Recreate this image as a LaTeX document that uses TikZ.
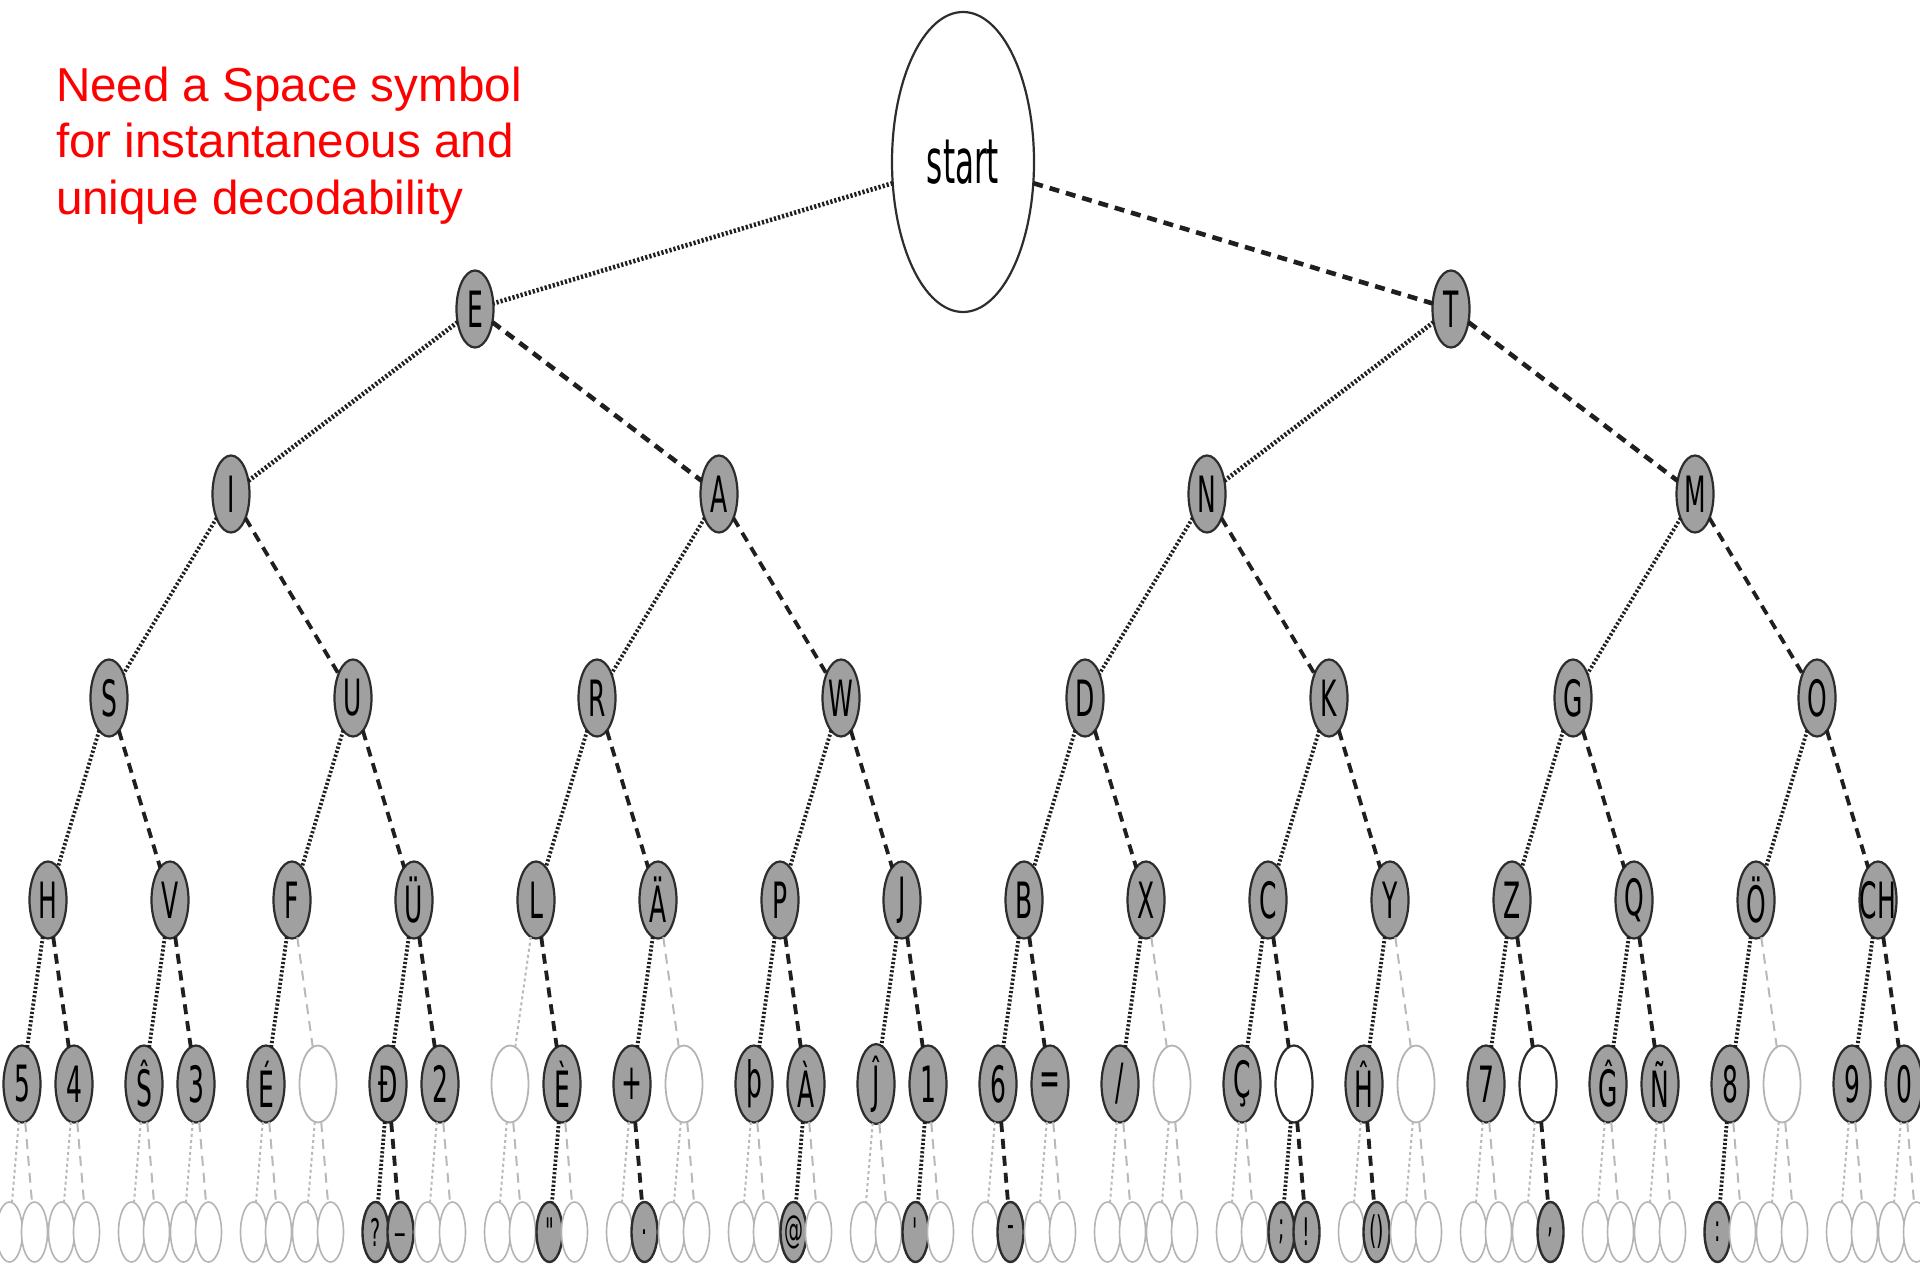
\documentclass[tikz,border=0pt]{standalone}
\usepackage{fontspec}
\setmainfont{Liberation Sans}
\newfontfamily\nfont[FakeStretch=0.5]{DejaVu Sans}
\usetikzlibrary{shapes.geometric}
\definecolor{nfill}{RGB}{160,160,160}
\definecolor{ndraw}{RGB}{45,45,45}
\definecolor{lgray}{RGB}{185,185,185}
\definecolor{egray}{RGB}{180,180,180}
\definecolor{titlered}{RGB}{255,0,0}
\newcommand\setlab[2]{\expandafter\def\csname mylab#1\endcsname{#2}}
\setlab{12}{?}\setlab{13}{\_}\setlab{18}{"}\setlab{21}{.}\setlab{26}{@}
\setlab{30}{'}\setlab{33}{-}\setlab{42}{;}\setlab{43}{!}\setlab{45}{()}
\setlab{51}{,}\setlab{56}{:}
\newcommand\nil{}
\newcommand\slashch{/}
\begin{document}
\begin{tikzpicture}[x=0.5pt,y=-0.5pt,
  every node/.style={inner sep=0pt,outer sep=0pt},
  title/.style={text=titlered,font=\fontsize{23.8pt}{28pt}\selectfont,anchor=base west},
  startnode/.style={ellipse,draw=ndraw,line width=1.1pt,fill=white,minimum width=71pt,minimum height=150pt,font=\nfont\fontsize{31pt}{31pt}\selectfont},
  lvf/.style={ellipse,draw=ndraw,line width=1.1pt,fill=nfill,minimum width=18.5pt,minimum height=38.5pt,font=\nfont\fontsize{25pt}{25pt}\selectfont},
  lvg/.style={ellipse,draw=egray,line width=0.9pt,fill=white,minimum width=18.5pt,minimum height=38.5pt},
  lvb/.style={ellipse,draw=ndraw,line width=1.1pt,fill=white,minimum width=18.5pt,minimum height=38.5pt},
  smf/.style={ellipse,draw=ndraw,line width=1.2pt,fill=nfill,minimum width=13pt,minimum height=30pt,font=\nfont\fontsize{19pt}{19pt}\selectfont},
  smg/.style={ellipse,draw=egray,line width=0.8pt,fill=white,minimum width=13pt,minimum height=30pt},
  ef0/.style={draw=black!88,line width=1.9pt,dash pattern=on 1.1pt off 1pt},
  ef1/.style={draw=black!88,line width=1.9pt,dash pattern=on 5pt off 3.5pt},
  et0/.style={draw=black!88,line width=2.3pt,dash pattern=on 1.1pt off 1pt},
  et1/.style={draw=black!88,line width=2.3pt,dash pattern=on 5pt off 3.5pt},
  eb0/.style={ef0},eb1/.style={ef1},
  eg0/.style={draw=lgray,line width=1pt,dash pattern=on 1.5pt off 1.5pt},
  eg1/.style={draw=lgray,line width=1pt,dash pattern=on 5pt off 3.5pt}
]
\useasboundingbox (0,0) rectangle (1920,1267);

% title
\node[title] (t1) at (56,102) {Need a Space symbol};
\node[title] (t2) at (56,158) {for instantaneous and};
\node[title] (t3) at (56,215) {unique decodability};

% levels 0-3
\node[startnode] (n0) at (963,162) {start};
\node[lvf] (n1-0) at (475,309) {\makebox[0pt]{E}};
\node[lvf] (n1-1) at (1451,309) {\makebox[0pt]{T}};
\node[lvf] (n2-0) at (231,494) {\makebox[0pt]{I}};
\node[lvf] (n2-1) at (719,494) {\makebox[0pt]{A}};
\node[lvf] (n2-2) at (1207,494) {\makebox[0pt]{N}};
\node[lvf] (n2-3) at (1695,494) {\makebox[0pt]{M}};
\foreach \lab [count=\i from 0] in {S,U,R,W,D,K,G,O}{
  \node[lvf] (n3-\i) at (109+244*\i,698) {\makebox[0pt]{\lab}};
}
\draw[et0] (n0) -- (n1-0);
\draw[et1] (n0) -- (n1-1);
\foreach \i in {0,...,3}{
  \pgfmathtruncatemacro\pp{\i/2}
  \pgfmathtruncatemacro\sd{mod(\i,2)}
  \draw[et\sd] (n1-\pp) -- (n2-\i);
}
\foreach \i in {0,...,7}{
  \pgfmathtruncatemacro\pp{\i/2}
  \pgfmathtruncatemacro\sd{mod(\i,2)}
  \draw[ef\sd] (n2-\pp) -- (n3-\i);
}

% level 4
\foreach \lab [count=\i from 0] in {H,V,F,Ü,L,Ä,P,J,B,X,C,Y,Z,Q,Ö,CH}{
  \pgfmathtruncatemacro\pp{\i/2}
  \pgfmathtruncatemacro\sd{mod(\i,2)}
  \node[lvf] (n4-\i) at (48+122*\i,900) {\makebox[0pt]{\lab}};
  \draw[ef\sd] (n3-\pp) -- (n4-\i);
}

% level 5
\foreach \s/\lab [count=\i from 0] in {f/5,f/4,f/Ŝ,f/3,f/É,g/\nil,f/Đ,f/2,g/\nil,f/È,f/+,g/\nil,f/þ,f/À,f/Ĵ,f/1,f/6,f/=,f/\slashch,g/\nil,f/Ç,b/\nil,f/Ĥ,g/\nil,f/7,b/\nil,f/Ĝ,f/Ñ,f/8,g/\nil,f/9,f/0}{
  \pgfmathtruncatemacro\pp{\i/2}
  \pgfmathtruncatemacro\sd{mod(\i,2)}
  \pgfmathsetmacro\xx{48+122*int(\i/2)+52*mod(\i,2)-26}
  \node[lv\s] (n5-\i) at (\xx,1084) {\makebox[0pt]{\lab}};
  \draw[e\s\sd] (n4-\pp) -- (n5-\i);
}

% level 6
\foreach \j in {0,...,63}{
  \pgfmathtruncatemacro\pp{\j/2}
  \pgfmathtruncatemacro\sd{mod(\j,2)}
  \pgfmathsetmacro\xx{48+122*int(\j/4)+52*mod(int(\j/2),2)-26+25*mod(\j,2)-12.5}
  \ifcsname mylab\j\endcsname
    \node[smf] (n6-\j) at (\xx,1232) {\makebox[0pt]{\csname mylab\j\endcsname}};
    \draw[ef\sd] (n5-\pp) -- (n6-\j);
  \else
    \node[smg] (n6-\j) at (\xx,1232) {};
    \draw[eg\sd] (n5-\pp) -- (n6-\j);
  \fi
}
\end{tikzpicture}
\end{document}
